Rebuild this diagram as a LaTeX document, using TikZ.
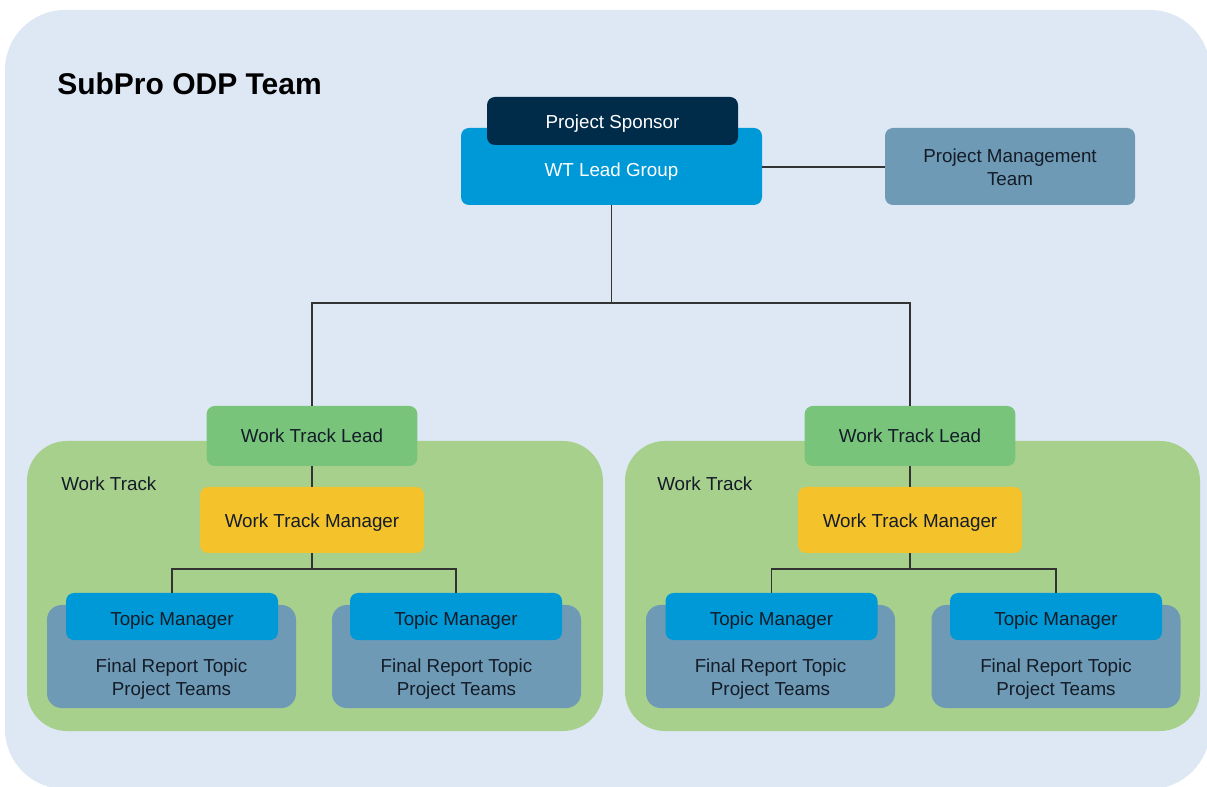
\documentclass[tikz,border=0pt]{standalone}
\usepackage{fontspec}
\setmainfont{Liberation Sans}
\definecolor{bgblue}{HTML}{DDE8F4}
\definecolor{navy}{HTML}{002C4A}
\definecolor{brblue}{HTML}{0099D8}
\definecolor{greyblue}{HTML}{6F9AB5}
\definecolor{outgreen}{HTML}{A8D08D}
\definecolor{leadgreen}{HTML}{78C47B}
\definecolor{wtyellow}{HTML}{F4C22B}
\definecolor{darktext}{HTML}{141C28}
\definecolor{linec}{HTML}{333333}
\newcommand{\dn}[2][5.75pt]{\raisebox{-#1}[0pt][0pt]{\begin{tabular}{@{}c@{}}#2\end{tabular}}}
\tikzset{
  box/.style={rounded corners=6pt, inner sep=0pt, align=center, font=\fontsize{14.1}{17.5}\selectfont, text=darktext},
  wtl/.style={box, fill=leadgreen, minimum width=158pt, minimum height=45pt},
  wtm/.style={box, fill=wtyellow, minimum width=168pt, minimum height=49.5pt},
  tm/.style={box, fill=brblue, minimum width=159pt, minimum height=35.25pt},
  fr/.style={box, fill=greyblue, rounded corners=11pt, minimum width=186.75pt, minimum height=77.25pt},
  frtext/.style={align=center, inner sep=0pt, font=\fontsize{14.1}{17.5}\selectfont, text=darktext},
  group/.style={fill=outgreen, rounded corners=30pt},
  conn/.style={draw=linec, line width=0.8pt},
  lbl/.style={inner sep=0pt, anchor=west, font=\fontsize{14.1}{17.5}\selectfont, text=darktext}
}
\begin{document}
\begin{tikzpicture}[x=0.75pt,y=-0.75pt]
\useasboundingbox (0,0) rectangle (1207,787);
\begin{scope}
\clip (0,0) rectangle (1207,787);
\fill[white] (0,0) rectangle (1207,787);
\fill[bgblue, rounded corners=45pt] (5,10) rectangle (1210,789);
\end{scope}

\node[inner sep=0pt, anchor=west, font=\bfseries\fontsize{22.5}{26}\selectfont, text=black] (title) at (57,84) {SubPro ODP Team};

% top
\node[box, fill=brblue, text=white, minimum width=225.75pt, minimum height=57.75pt] (wtlg) at (611.5,166.5) {\dn[7.25pt]{WT Lead Group}};
\node[box, fill=navy, text=white, minimum width=188.25pt, minimum height=36pt] (sponsor) at (612.5,121) {\dn{Project Sponsor}};
\node[box, fill=greyblue, minimum width=187.5pt, minimum height=57.75pt] (pmt) at (1010,166.5) {\dn{Project Management\\Team}};
\draw[conn] (wtlg.east |- 0,167) -- (pmt.west |- 0,167);

% groups
\fill[group] (27,441) rectangle (603,731);
\fill[group] (625,441) rectangle (1200,731);
\node[lbl] (wt1) at (61,484) {Work Track};
\node[lbl] (wt2) at (657,484) {Work Track};

% leads and managers
\node[wtl] (wtl1) at (312,436) {\dn[5pt]{Work Track Lead}};
\node[wtl] (wtl2) at (910,436) {\dn[5pt]{Work Track Lead}};
\node[wtm] (wtm1) at (312,520) {\dn{Work Track Manager}};
\node[wtm] (wtm2) at (910,520) {\dn{Work Track Manager}};

% final report boxes
\node[fr] (fr1) at (171.5,656.5) {};
\node[fr] (fr2) at (456.5,656.5) {};
\node[fr] (fr3) at (770.5,656.5) {};
\node[fr] (fr4) at (1056,656.5) {};
\node[frtext] (frt1) at (171.5,679) {Final Report Topic\\Project Teams};
\node[frtext] (frt2) at (456.5,679) {Final Report Topic\\Project Teams};
\node[frtext] (frt3) at (770.5,679) {Final Report Topic\\Project Teams};
\node[frtext] (frt4) at (1056,679) {Final Report Topic\\Project Teams};

% topic managers
\node[tm] (tm1) at (172,616.5) {\dn[6.5pt]{Topic Manager}};
\node[tm] (tm2) at (456,616.5) {\dn[6.5pt]{Topic Manager}};
\node[tm] (tm3) at (771.5,616.5) {\dn[6.5pt]{Topic Manager}};
\node[tm] (tm4) at (1056,616.5) {\dn[6.5pt]{Topic Manager}};

% connectors
\coordinate (bus) at (611.5,303);
\coordinate (bus1) at (312,569);
\coordinate (bus2) at (910,569);
\draw[conn] (wtlg.south) -- (bus);
\draw[conn] (bus) -| (wtl1.north);
\draw[conn] (bus) -| (wtl2.north);
\draw[conn] (wtl1.south) -- (wtm1.north);
\draw[conn] (wtl2.south) -- (wtm2.north);
\draw[conn] (wtm1.south) -- (bus1);
\draw[conn] (wtm2.south) -- (bus2);
\draw[conn] (bus1) -| (tm1.north);
\draw[conn] (bus1) -| (tm2.north);
\draw[conn] (bus2) -| (tm3.north);
\draw[conn] (bus2) -| (tm4.north);
\end{tikzpicture}
\end{document}
